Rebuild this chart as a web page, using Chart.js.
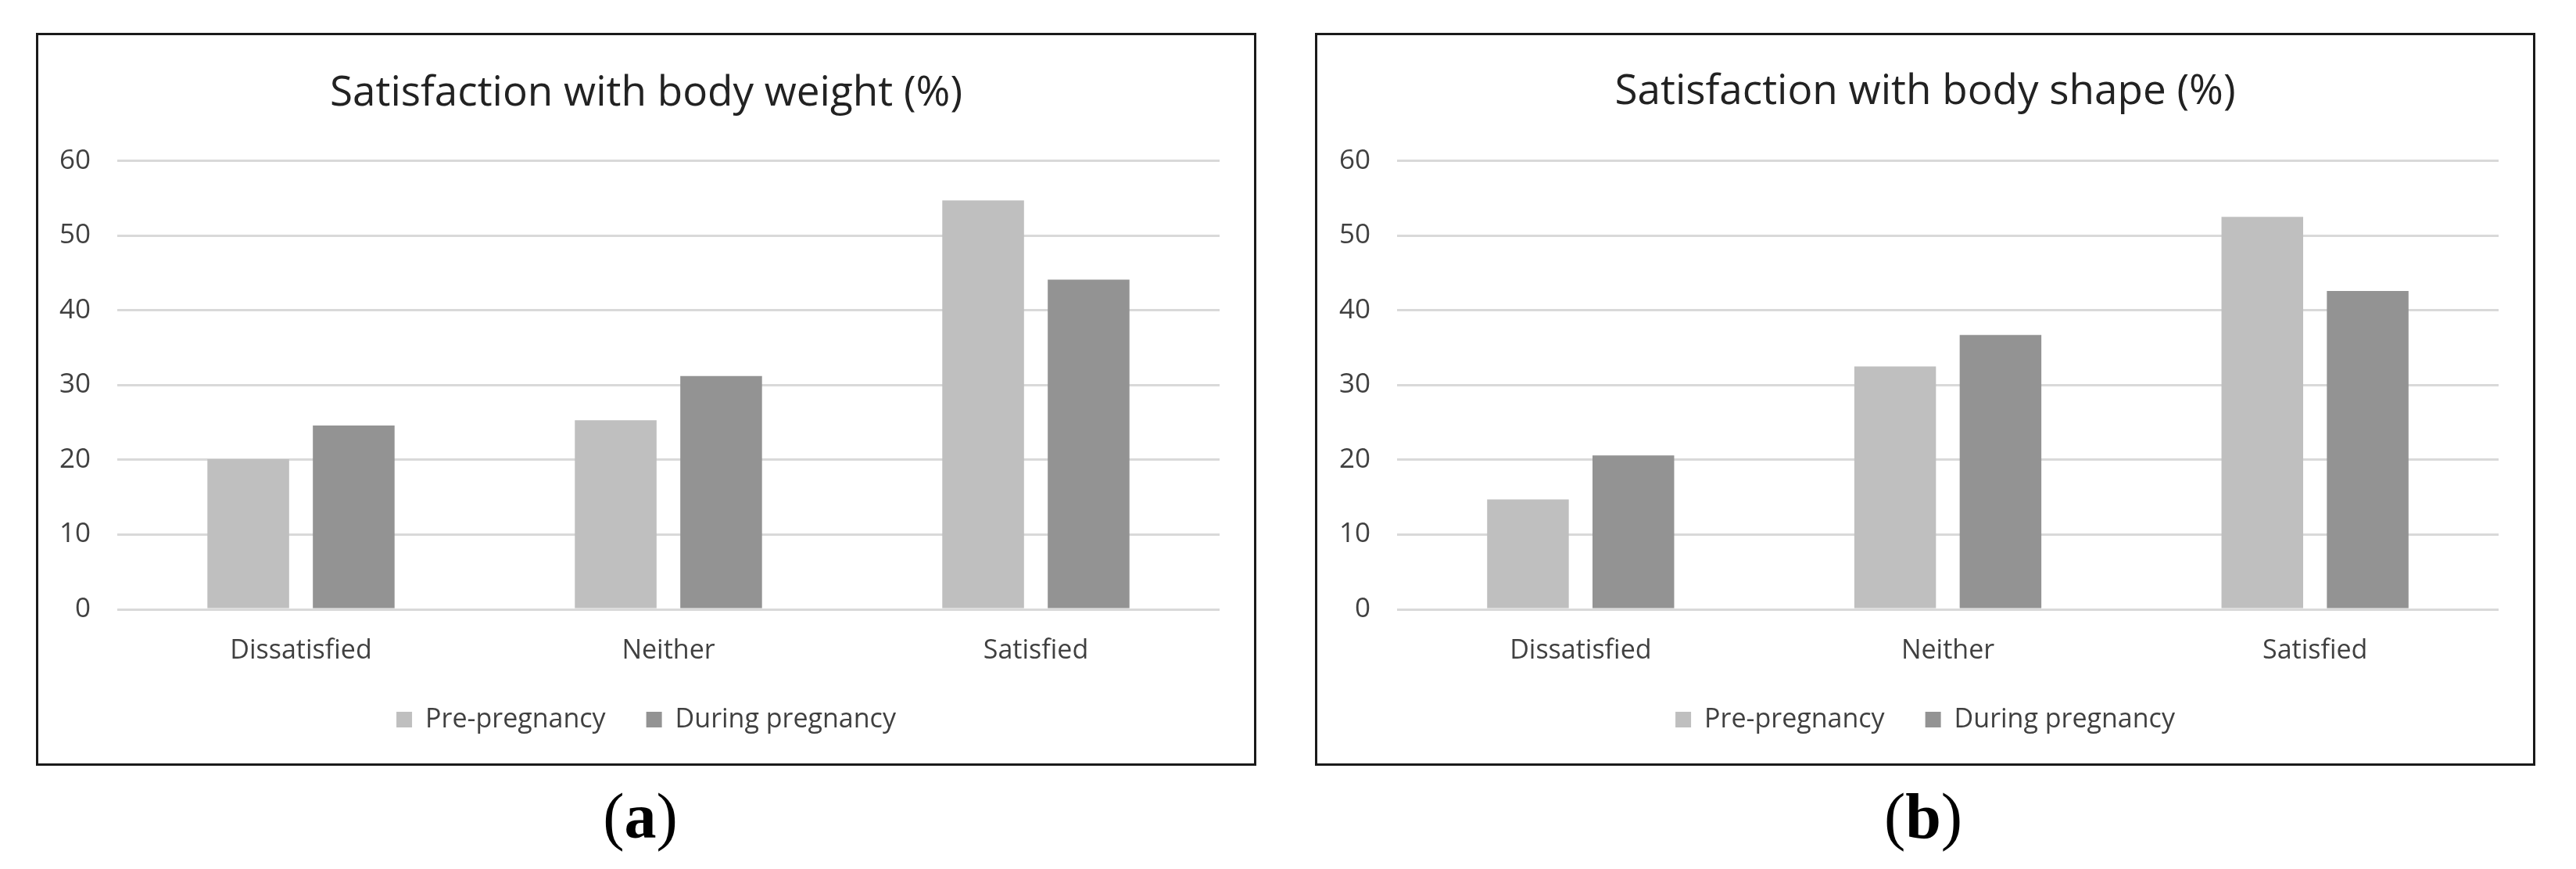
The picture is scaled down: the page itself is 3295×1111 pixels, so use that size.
<!DOCTYPE html>
<html>
<head>
<meta charset="utf-8">
<script src="https://cdn.jsdelivr.net/npm/chart.js@4.4.1/dist/chart.umd.min.js"></script>
<style>
    body { margin: 0; width: 3295px; height: 1111px; background: #fff; position: relative; overflow: hidden; }
    .frame { position: absolute; border: 3px solid #1a1a1a; box-sizing: border-box; pointer-events: none; }
    .plot { position: absolute; }
    .caption { position: absolute; width: 300px; text-align: center; font-family: "Liberation Serif", serif; font-size: 82px; line-height: 1; color: #000; }
</style>
</head>
<body>
<div class="frame" style="left:46px; top:42px; width:1561px; height:937px;"></div>
<canvas id="chart-weight" class="plot" width="1555" height="950" style="left:49px; top:45px;"></canvas>
<div class="caption" style="left:669px; top:1003px;">(<b>a</b>)</div>

<div class="frame" style="left:1682px; top:42px; width:1561px; height:937px;"></div>
<canvas id="chart-shape" class="plot" width="1555" height="950" style="left:1685px; top:45px;"></canvas>
<div class="caption" style="left:2310px; top:1003px;">(<b>b</b>)</div>

<script>
// ----------------------------Data----------------------------

const categories = ['Dissatisfied', 'Neither', 'Satisfied'];
const seriesNames = ['Pre-pregnancy', 'During pregnancy'];

const weightPre = [20.1, 25.3, 54.7];
const weightDuring = [24.6, 31.2, 44.1];

const shapePre = [14.7, 32.5, 52.5];
const shapeDuring = [20.6, 36.7, 42.6];

const yMax = 60;
const yStep = 10;

// ----------------------------Charts----------------------------

const FONT = '"Open Sans", sans-serif';
const TEXT_COLOR = '#404040';

function makeChart(canvasId, title, pre, during, axisWidth, titleTop) {
    const ctx = document.getElementById(canvasId);
    return new Chart(ctx, {
        type: 'bar',
        data: {
            labels: categories,
            datasets: [{
                label: seriesNames[0],
                data: pre,
                backgroundColor: '#BFBFBF',
                borderWidth: 0,
                categoryPercentage: 0.574,
                barPercentage: 0.775
            }, {
                label: seriesNames[1],
                data: during,
                backgroundColor: '#939393',
                borderWidth: 0,
                categoryPercentage: 0.574,
                barPercentage: 0.775
            }]
        },
        options: {
            responsive: false,
            animation: false,
            layout: { padding: { left: 0, right: 0, top: 0, bottom: 48 } },
            plugins: {
                title: {
                    display: true,
                    text: title,
                    color: '#222',
                    font: { family: FONT, size: 53, weight: 'normal' },
                    padding: { top: titleTop, bottom: 97 - titleTop }
                },
                legend: {
                    position: 'bottom',
                    labels: {
                        color: TEXT_COLOR,
                        font: { family: FONT, size: 34 },
                        boxWidth: 20,
                        boxHeight: 20,
                        padding: 52
                    }
                },
                tooltip: { enabled: false }
            },
            scales: {
                x: {
                    afterFit: scale => { scale.height = 72; },
                    grid: { display: false, drawTicks: false },
                    border: { display: false },
                    ticks: {
                        color: TEXT_COLOR,
                        font: { family: FONT, size: 34 },
                        padding: 33
                    }
                },
                y: {
                    min: 0,
                    max: yMax,
                    afterFit: scale => { scale.width = axisWidth; },
                    grid: { color: '#D9D9D9', lineWidth: 3, drawTicks: false },
                    border: { display: false },
                    ticks: {
                        stepSize: yStep,
                        color: TEXT_COLOR,
                        font: { family: FONT, size: 35 },
                        padding: 34
                    }
                },
                // empty right-hand axis, only keeps the plot off the right frame
                yRight: {
                    position: 'right',
                    afterFit: scale => { scale.width = 44; },
                    grid: { display: false, drawTicks: false },
                    border: { display: false },
                    ticks: { display: false }
                }
            }
        }
    });
}

makeChart('chart-weight', 'Satisfaction with body weight (%)', weightPre, weightDuring, 101, 43);
makeChart('chart-shape', 'Satisfaction with body shape (%)', shapePre, shapeDuring, 102, 41);
</script>
</body>
</html>
